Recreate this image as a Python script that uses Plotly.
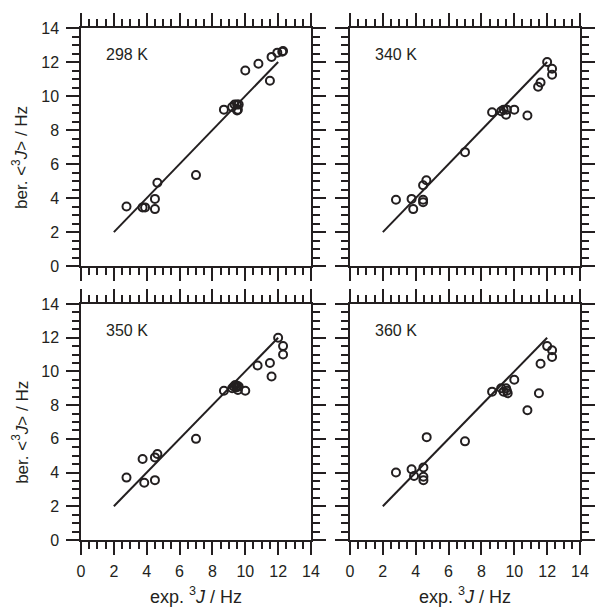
import plotly.graph_objects as go

# ---- data ----
panel_labels = ["298 K", "340 K", "350 K", "360 K"]

x_298 = [2.77, 3.75, 3.9, 4.5, 4.5, 4.65, 7.0, 8.7, 9.2, 9.35, 9.5, 9.55, 9.6, 9.5, 10.0, 10.8, 11.5, 11.6, 11.95, 12.25, 12.3]
y_298 = [3.5, 3.45, 3.45, 3.95, 3.35, 4.9, 5.35, 9.2, 9.35, 9.5, 9.5, 9.2, 9.5, 9.15, 11.5, 11.9, 10.9, 12.3, 12.55, 12.6, 12.65]

x_340 = [2.8, 3.75, 3.85, 4.45, 4.45, 4.45, 4.65, 7.0, 8.65, 9.2, 9.35, 9.5, 9.55, 10.0, 10.8, 11.45, 11.6, 12.0, 12.3, 12.3]
y_340 = [3.9, 3.95, 3.35, 3.9, 3.75, 4.75, 5.05, 6.7, 9.05, 9.1, 9.2, 8.9, 9.2, 9.2, 8.85, 10.55, 10.8, 12.0, 11.6, 11.25]

x_350 = [2.77, 3.75, 3.85, 4.5, 4.65, 4.5, 7.0, 8.7, 9.2, 9.3, 9.4, 9.45, 9.5, 9.6, 9.55, 10.0, 10.75, 11.5, 11.6, 12.0, 12.3, 12.3]
y_350 = [3.7, 4.8, 3.4, 4.9, 5.1, 3.55, 6.0, 8.85, 9.0, 9.1, 9.2, 9.05, 9.15, 9.1, 8.9, 8.85, 10.35, 10.5, 9.7, 12.0, 11.5, 11.0]

x_360 = [2.8, 3.75, 3.9, 4.47, 4.47, 4.47, 4.67, 7.0, 8.65, 9.2, 9.35, 9.5, 9.6, 9.55, 10.0, 10.8, 11.5, 11.6, 12.0, 12.3, 12.3]
y_360 = [4.0, 4.2, 3.8, 4.3, 3.75, 3.55, 6.1, 5.85, 8.8, 9.0, 8.8, 9.0, 8.7, 8.85, 9.5, 7.7, 8.7, 10.45, 11.5, 11.25, 10.85]

line_x = [2, 12]
line_y = [2, 12]

axis_range = [0, 14]
tick_vals = [0, 2, 4, 6, 8, 10, 12, 14]
tick_text = ["0", "2", "4", "6", "8", "10", "12", "14"]

# ---- figure ----
FONT = "Liberation Sans, Arial, sans-serif"
INK = "#231f20"
W, H = 607, 608
L, R, T, B = 81, 14, 28, 68

xdom = [[0, 0.4609], [0.539, 1]]
ydom = [[0.535, 1], [0, 0.461]]

fig = go.Figure()
data = [(x_298, y_298), (x_340, y_340), (x_350, y_350), (x_360, y_360)]

for i, (xs, ys) in enumerate(data):
    r, c = divmod(i, 2)
    n = i + 1
    xa = "x" if n == 1 else f"x{n}"
    ya = "y" if n == 1 else f"y{n}"
    fig.add_trace(go.Scatter(x=line_x, y=line_y, mode="lines",
                             line=dict(color=INK, width=2),
                             xaxis=xa, yaxis=ya, showlegend=False, hoverinfo="skip"))
    fig.add_trace(go.Scatter(x=xs, y=ys, mode="markers",
                             marker=dict(symbol="circle-open", size=8, color=INK,
                                         line=dict(width=2, color=INK)),
                             xaxis=xa, yaxis=ya, showlegend=False))
    common = dict(range=axis_range, showgrid=False, zeroline=False,
                  showline=True, linecolor=INK, linewidth=1.5, mirror="allticks",
                  ticks="outside", ticklen=13, tickwidth=1.5, tickcolor=INK,
                  tickvals=tick_vals, ticktext=tick_text,
                  tickfont=dict(family=FONT, size=16, color=INK),
                  minor=dict(ticks="outside", ticklen=7, tickwidth=1.5, tickcolor=INK, dtick=0.5, tick0=0, showgrid=False),
                  fixedrange=True)
    xkey = "xaxis" if n == 1 else f"xaxis{n}"
    ykey = "yaxis" if n == 1 else f"yaxis{n}"
    fig.update_layout(**{
        xkey: dict(domain=xdom[c], anchor=ya, showticklabels=(r == 1), ticklabelstandoff=3, **common),
        ykey: dict(domain=ydom[r], anchor=xa, showticklabels=(c == 0), ticklabelstandoff=4, **common),
    })
    fig.add_annotation(x=1.4, y=12.45, xref=xa, yref=ya, text=panel_labels[i],
                       showarrow=False, xanchor="left", yanchor="middle",
                       font=dict(family=FONT, size=16, color=INK))

# axis titles
for c in range(2):
    cx = (xdom[c][0] + xdom[c][1]) / 2
    fig.add_annotation(x=cx, y=-0.108, xref="paper", yref="paper",
                       text="exp. <sup>3</sup><i>J</i> / Hz", showarrow=False,
                       xanchor="center", yanchor="middle",
                       font=dict(family=FONT, size=18, color=INK))
for r in range(2):
    cy = (ydom[r][0] + ydom[r][1]) / 2 - 0.02
    fig.add_annotation(x=-0.121, y=cy, xref="paper", yref="paper",
                       text="ber. &lt;<sup>3</sup><i>J</i>&gt; / Hz", showarrow=False,
                       textangle=-90, xanchor="center", yanchor="middle",
                       font=dict(family=FONT, size=17, color=INK))

fig.update_layout(width=W, height=H, margin=dict(l=L, r=R, t=T, b=B),
                  paper_bgcolor="white", plot_bgcolor="white",
                  font=dict(family=FONT, color=INK))

fig.write_html("out.html")
